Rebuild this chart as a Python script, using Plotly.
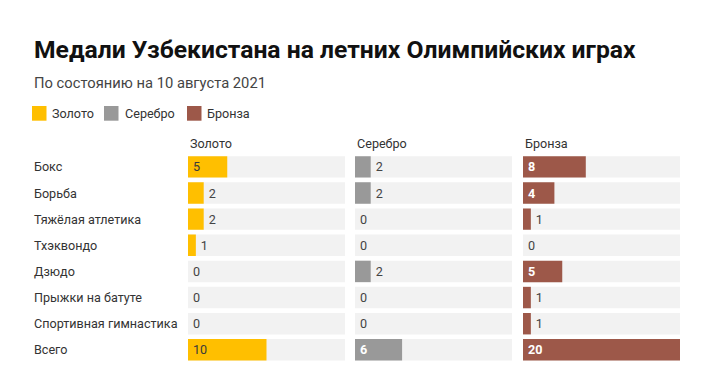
import plotly.graph_objects as go

categories = ["Бокс", "Борьба", "Тяжёлая атлетика", "Тхэквондо", "Дзюдо",
              "Прыжки на батуте", "Спортивная гимнастика", "Всего"]
gold = [5, 2, 2, 1, 0, 0, 0, 10]
silver = [2, 2, 0, 0, 2, 0, 0, 6]
bronze = [8, 4, 1, 0, 5, 1, 1, 20]
panel_names = ["Золото", "Серебро", "Бронза"]
scale_max = 20

colors = ["#FFBF00", "#999999", "#9D5849"]
inside_bold = [False, True, True]
series = [gold, silver, bronze]

FONT = "Roboto, Arial, sans-serif"
OFF = 8  # page body margin
W, H = 719 - OFF, 379 - OFF


def px(x):
    return (x - OFF) / W


def py(y):
    return 1 - (y - OFF) / H


domains_px = [(188, 345), (355, 512), (523, 680)]
row_top, row_bottom = 153.8, 362.9
FS = 12.6
PAD = '<span style="font-size:8px">\u00a0</span>'

fig = go.Figure()
for i, (vals, col) in enumerate(zip(series, colors)):
    xa = "x" if i == 0 else f"x{i+1}"
    fig.add_trace(go.Bar(
        y=categories, x=[scale_max] * len(categories), orientation="h",
        marker=dict(color="#F2F2F2", line=dict(width=0)), width=0.82,
        xaxis=xa, yaxis="y", hoverinfo="skip", showlegend=False))
    texts, pos, tcol = [], [], []
    for v in vals:
        if v >= 4:
            pos.append("inside")
            if inside_bold[i]:
                texts.append(f"{PAD}<b>{v}</b>")
                tcol.append("#FFFFFF")
            else:
                texts.append(f"{PAD}{v}")
                tcol.append("#3A3A3A")
        else:
            pos.append("outside")
            texts.append(f"{PAD}{v}")
            tcol.append("#444444")
    fig.add_trace(go.Bar(
        y=categories, x=vals, orientation="h", name=panel_names[i],
        marker=dict(color=col, line=dict(width=0)), width=0.82,
        text=texts, textposition=pos, insidetextanchor="start",
        textangle=0, constraintext="none", cliponaxis=False,
        textfont=dict(family=FONT, size=FS, color=tcol),
        outsidetextfont=dict(family=FONT, size=FS, color="#444444"),
        insidetextfont=dict(family=FONT, size=FS, color=tcol),
        xaxis=xa, yaxis="y", showlegend=False))

layout = dict(
    width=W, height=H, margin=dict(l=0, r=0, t=0, b=0),
    paper_bgcolor="white", plot_bgcolor="white",
    barmode="overlay", showlegend=False,
    font=dict(family=FONT, color="#333333"),
    yaxis=dict(domain=[py(row_bottom), py(row_top)], autorange="reversed",
               showticklabels=False, showgrid=False, zeroline=False,
               anchor="x", fixedrange=True),
)
for i, (a, b) in enumerate(domains_px):
    key = "xaxis" if i == 0 else f"xaxis{i+1}"
    layout[key] = dict(domain=[px(a), px(b)], range=[0, scale_max],
                       showticklabels=False, showgrid=False, zeroline=False,
                       anchor="y", fixedrange=True)
fig.update_layout(**layout)

annotations = []
shapes = []
# title / subtitle
annotations.append(dict(text="<b>Медали Узбекистана на летних Олимпийских играх</b>",
                        xref="paper", yref="paper", x=px(32), y=py(49.5),
                        xanchor="left", yanchor="middle", showarrow=False,
                        font=dict(family=FONT, size=24.7, color="#111111")))
annotations.append(dict(text="По состоянию на 10 августа 2021",
                        xref="paper", yref="paper", x=px(32), y=py(83.5),
                        xanchor="left", yanchor="middle", showarrow=False,
                        font=dict(family=FONT, size=14.75, color="#444444")))
# legend
leg_sw = [32, 104, 187]
leg_tx = [50, 123, 205]
for i in range(3):
    shapes.append(dict(type="rect", xref="paper", yref="paper",
                       x0=px(leg_sw[i]), x1=px(leg_sw[i] + 14.5),
                       y0=py(120.7), y1=py(106),
                       fillcolor=colors[i], line=dict(width=0)))
    annotations.append(dict(text=panel_names[i], xref="paper", yref="paper",
                            x=px(leg_tx[i]), y=py(113.5), xanchor="left",
                            yanchor="middle", showarrow=False,
                            font=dict(family=FONT, size=FS, color="#333333")))
# column headers
for i, (a, b) in enumerate(domains_px):
    annotations.append(dict(text=panel_names[i], xref="paper", yref="paper",
                            x=px(a), y=py(143), xanchor="left",
                            yanchor="middle", showarrow=False,
                            font=dict(family=FONT, size=FS, color="#333333")))
# category labels
for c in categories:
    annotations.append(dict(text=c, xref="paper", yref="y", x=px(32), y=c,
                            xanchor="left", yanchor="middle", showarrow=False,
                            font=dict(family=FONT, size=FS, color="#333333")))
fig.update_layout(annotations=annotations, shapes=shapes)

fig.write_html("out.html", config={"displayModeBar": False})
